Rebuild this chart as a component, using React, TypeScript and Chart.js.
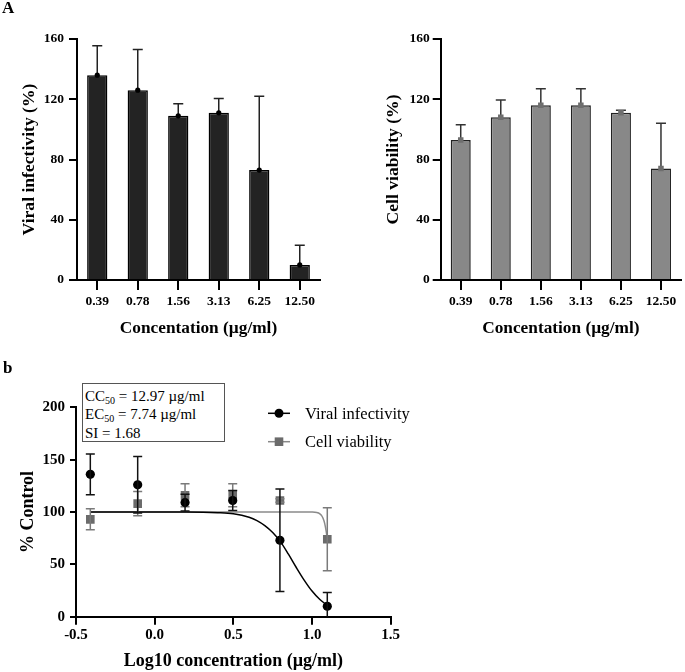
import React, { useEffect, useRef } from 'react';
import { Chart, registerables } from 'chart.js';
Chart.register(...registerables);

// ---------- data ----------
const concLabels = ['0.39', '0.78', '1.56', '3.13', '6.25', '12.50'];
const logConc = [-0.409, -0.108, 0.193, 0.496, 0.796, 1.097];
const viralMean = [136, 126, 109, 111, 73, 10];
const viralSD = [19.5, 27, 8, 9.5, 49, 13];
const cellMean = [93, 108, 116, 116, 111, 74];
const cellSD = [10, 11.5, 11, 11, 1.7, 30];
const barYTicks = [0, 40, 80, 120, 160];
const doseYTicks = [0, 50, 100, 150, 200];
const doseXTicks = [-0.5, 0, 0.5, 1.0, 1.5];
// fitted curves
const viralFitX = [-0.41, 0.2, 0.4, 0.5, 0.6, 0.65, 0.7, 0.75, 0.8, 0.85, 0.9, 0.95, 1.0, 1.05, 1.097];
const viralFitY = [100, 99.9, 99.3, 98.3, 95, 91.8, 87, 80.4, 71.5, 59.7, 47, 35, 24.5, 16.4, 10.8];
const cellFitX = [-0.41, 0.5, 0.9, 1.0, 1.03, 1.05, 1.06, 1.07, 1.08, 1.09, 1.097];
const cellFitY = [100, 100, 100, 99.9, 99.5, 98.3, 96.8, 94, 89.4, 81.5, 74];

const SERIF = '"Liberation Serif", "Times New Roman", serif';

// ---------- plugins ----------
const errorBarPlugin = {
  id: 'errorBars',
  afterDatasetDraw(chart: any, args: any) {
    const ds: any = chart.data.datasets[args.index];
    if (!ds.errors) return;
    const ys = chart.scales.y;
    const area = chart.chartArea;
    const ctx = chart.ctx;
    ctx.save();
    ctx.strokeStyle = ds.errorColor || '#000';
    ctx.lineWidth = ds.errorWidth || 1.5;
    args.meta.data.forEach((el: any, i: number) => {
      const d = ds.data[i];
      const v = typeof d === 'number' ? d : d.y;
      const e = ds.errors[i];
      const px = el.x;
      const yTop = ys.getPixelForValue(v + e);
      const lowVal = ds.errorBoth ? v - e : v;
      const yBot = Math.min(ys.getPixelForValue(lowVal), area.bottom);
      const cw = (ds.capWidth || 10) / 2;
      ctx.beginPath();
      ctx.moveTo(px, yTop);
      ctx.lineTo(px, yBot);
      ctx.moveTo(px - cw, yTop);
      ctx.lineTo(px + cw, yTop);
      if (ds.errorBoth && lowVal >= 0) {
        ctx.moveTo(px - cw, yBot);
        ctx.lineTo(px + cw, yBot);
      }
      ctx.stroke();
    });
    ctx.restore();
  },
};

const doseLegendPlugin = {
  id: 'doseLegend',
  afterDraw(chart: any) {
    const ctx = chart.ctx;
    const a = chart.chartArea;
    const items = chart.data.datasets.filter((d: any) => d.legendMarker);
    items.forEach((ds: any, k: number) => {
      const y = a.top + 6 + k * 28.4;
      const x0 = a.right - 122.7;
      ctx.save();
      ctx.strokeStyle = ds.legendLine;
      ctx.lineWidth = 1.5;
      ctx.beginPath();
      ctx.moveTo(x0, y);
      ctx.lineTo(x0 + 22, y);
      ctx.stroke();
      ctx.fillStyle = ds.backgroundColor;
      if (ds.legendMarker === 'circle') {
        ctx.beginPath();
        ctx.arc(x0 + 11, y, 4.5, 0, Math.PI * 2);
        ctx.fill();
      } else {
        ctx.fillRect(x0 + 11 - 4.3, y - 4.3, 8.6, 8.6);
      }
      ctx.fillStyle = '#000';
      ctx.font = `16.5px ${SERIF}`;
      ctx.textAlign = 'left';
      ctx.textBaseline = 'middle';
      ctx.fillText(ds.label, x0 + 37, y + 1);
      ctx.restore();
    });
  },
};

// ---------- config builders ----------
function barConfig(opts: {
  labels: string[]; mean: number[]; sd: number[]; fill: string; border: string;
  markerColor: string; markerStyle: string; markerRadius: number; errColor: string;
  yTitle: string; yWidth: number; yTitlePad: number; padRight: number; tickPad: number;
}): any {
  return {
    data: {
      labels: opts.labels,
      datasets: [
        {
          type: 'bar',
          label: opts.yTitle,
          data: opts.mean,
          backgroundColor: opts.fill,
          borderColor: opts.border,
          borderWidth: 1.5,
          barPercentage: 0.5,
          categoryPercentage: 1,
          order: 2,
          errors: opts.sd,
          errorColor: opts.errColor,
          errorWidth: 1.5,
          capWidth: 10,
          errorBoth: false,
        },
        {
          type: 'line',
          label: 'mean',
          data: opts.mean,
          showLine: false,
          pointStyle: opts.markerStyle,
          pointRadius: opts.markerRadius,
          pointBackgroundColor: opts.markerColor,
          pointBorderColor: opts.markerColor,
          pointBorderWidth: 0,
          order: 1,
        },
      ],
    },
    options: {
      responsive: false,
      animation: false,
      events: [],
      layout: { padding: { left: 0, top: 39, right: opts.padRight, bottom: 0 } },
      plugins: { legend: { display: false }, tooltip: { enabled: false } },
      scales: {
        x: {
          type: 'category',
          offset: true,
          grid: { offset: false, drawOnChartArea: false, drawTicks: true, tickLength: 10, color: '#000', lineWidth: 2 },
          border: { display: true, color: '#000', width: 2 },
          ticks: { color: '#000', font: { family: SERIF, size: 13.5, weight: 'bold' }, padding: 3, maxRotation: 0 },
          title: {
            display: true,
            text: 'Concentation (µg/ml)',
            color: '#000',
            font: { family: SERIF, size: 17.3, weight: 'bold' },
            padding: { top: 0, bottom: 5.6 },
          },
          afterFit: (s: any) => { s.height = 65; },
        },
        y: {
          min: 0,
          max: 160,
          afterBuildTicks: (s: any) => { s.ticks = barYTicks.map((v) => ({ value: v })); },
          grid: { drawOnChartArea: false, drawTicks: true, tickLength: 8, color: '#000', lineWidth: 2 },
          border: { display: true, color: '#000', width: 2 },
          ticks: { color: '#000', font: { family: SERIF, size: 13.5, weight: 'bold' }, padding: opts.tickPad },
          title: {
            display: true,
            text: opts.yTitle,
            color: '#000',
            font: { family: SERIF, size: 17.6, weight: 'bold' },
            padding: { top: opts.yTitlePad, bottom: 0 },
          },
          afterFit: (s: any) => { s.width = opts.yWidth; },
        },
      },
    },
    plugins: [errorBarPlugin],
  };
}

function doseConfig(): any {
  const pts = (ys: number[]) => logConc.map((x, i) => ({ x, y: ys[i] }));
  const curve = (xs: number[], ys: number[]) => xs.map((x, i) => ({ x, y: ys[i] }));
  return {
    type: 'scatter',
    data: {
      datasets: [
        {
          label: 'Viral infectivity',
          data: pts(viralMean),
          pointStyle: 'circle',
          pointRadius: 4.6,
          backgroundColor: '#000',
          borderColor: '#000',
          pointBorderWidth: 0,
          order: 1,
          errors: viralSD,
          errorColor: '#111',
          errorWidth: 1.5,
          capWidth: 9,
          errorBoth: true,
          legendMarker: 'circle',
          legendLine: '#000',
        },
        {
          label: 'Cell viability',
          data: pts(cellMean),
          pointStyle: 'rect',
          pointRadius: 6.1,
          backgroundColor: '#6b6b6b',
          borderColor: '#6b6b6b',
          pointBorderWidth: 0,
          order: 2,
          errors: cellSD,
          errorColor: '#7a7a7a',
          errorWidth: 1.5,
          capWidth: 9,
          errorBoth: true,
          legendMarker: 'rect',
          legendLine: '#888',
        },
        {
          label: 'viral fit',
          type: 'line',
          data: curve(viralFitX, viralFitY),
          showLine: true,
          borderColor: '#000',
          borderWidth: 1.5,
          pointRadius: 0,
          cubicInterpolationMode: 'monotone',
          fill: false,
          order: 3,
        },
        {
          label: 'cell fit',
          type: 'line',
          data: curve(cellFitX, cellFitY),
          showLine: true,
          borderColor: '#8a8a8a',
          borderWidth: 1.5,
          pointRadius: 0,
          cubicInterpolationMode: 'monotone',
          fill: false,
          order: 4,
        },
      ],
    },
    options: {
      responsive: false,
      animation: false,
      events: [],
      layout: { padding: { left: 0, top: 67.3, right: 294.3, bottom: 0 } },
      plugins: { legend: { display: false }, tooltip: { enabled: false } },
      scales: {
        x: {
          type: 'linear',
          min: -0.5,
          max: 1.5,
          afterBuildTicks: (s: any) => { s.ticks = doseXTicks.map((v) => ({ value: v })); },
          grid: { drawOnChartArea: false, drawTicks: true, tickLength: 8, color: '#000', lineWidth: 2 },
          border: { display: true, color: '#000', width: 2 },
          ticks: {
            color: '#000',
            font: { family: SERIF, size: 15, weight: 'bold' },
            padding: 1,
            maxRotation: 0,
            callback: (v: any) => Number(v).toFixed(1),
          },
          title: {
            display: true,
            text: 'Log10 concentration (µg/ml)',
            color: '#000',
            font: { family: SERIF, size: 18, weight: 'bold' },
            padding: { top: 0, bottom: 0 },
          },
          afterFit: (s: any) => { s.height = 55.3; },
        },
        y: {
          min: 0,
          max: 200,
          afterBuildTicks: (s: any) => { s.ticks = doseYTicks.map((v) => ({ value: v })); },
          grid: { drawOnChartArea: false, drawTicks: true, tickLength: 6, color: '#000', lineWidth: 2 },
          border: { display: true, color: '#000', width: 2 },
          ticks: { color: '#000', font: { family: SERIF, size: 15, weight: 'bold' }, padding: 5 },
          title: {
            display: true,
            text: '% Control',
            color: '#000',
            font: { family: SERIF, size: 18, weight: 'bold' },
            padding: { top: 17.2, bottom: 0 },
          },
          afterFit: (s: any) => { s.width = 76; },
        },
      },
    },
    plugins: [errorBarPlugin, doseLegendPlugin],
  };
}

export default function App() {
  const refA = useRef<HTMLCanvasElement>(null);
  const refB = useRef<HTMLCanvasElement>(null);
  const refC = useRef<HTMLCanvasElement>(null);

  useEffect(() => {
    const charts = [
      new Chart(refA.current as HTMLCanvasElement, barConfig({
        labels: concLabels, mean: viralMean, sd: viralSD, fill: '#232323', border: '#000',
        markerColor: '#000', markerStyle: 'circle', markerRadius: 2.6, errColor: '#222',
        yTitle: 'Viral infectivity (%)', yWidth: 77, yTitlePad: 18.4, padRight: 20, tickPad: 5,
      })),
      new Chart(refB.current as HTMLCanvasElement, barConfig({
        labels: concLabels, mean: cellMean, sd: cellSD, fill: '#888888', border: '#222',
        markerColor: '#6e6e6e', markerStyle: 'rect', markerRadius: 3.9, errColor: '#333',
        yTitle: 'Cell viability (%)', yWidth: 100.7, yTitlePad: 42.4, padRight: 1, tickPad: 3,
      })),
      new Chart(refC.current as HTMLCanvasElement, doseConfig()),
    ];
    return () => charts.forEach((c) => c.destroy());
  }, []);

  const abs = (l: number, t: number, w: number, h: number): React.CSSProperties => ({
    position: 'absolute', left: l, top: t, width: w, height: h,
  });

  return (
    <div style={{ position: 'absolute', left: 0, top: 0, width: 685, height: 672, background: '#fff', fontFamily: SERIF, overflow: 'hidden' }}>
      <div style={abs(0, 0, 340, 345)}>
        <canvas ref={refA} width={340} height={345} style={{ display: 'block', width: 340, height: 345 }} />
      </div>
      <div style={abs(340, 0, 345, 345)}>
        <canvas ref={refB} width={345} height={345} style={{ display: 'block', width: 345, height: 345 }} />
      </div>
      <div style={abs(0, 340, 685, 332)}>
        <canvas ref={refC} width={685} height={332} style={{ display: 'block', width: 685, height: 332 }} />
      </div>
      <div style={{ position: 'absolute', left: 2, top: -1, fontSize: 17, lineHeight: '17px', fontWeight: 'bold' }}>A</div>
      <div style={{ position: 'absolute', left: 3, top: 359, fontSize: 17, lineHeight: '17px', fontWeight: 'bold' }}>b</div>
      <div
        style={{
          position: 'absolute', left: 82, top: 383, width: 143, height: 59, boxSizing: 'border-box',
          border: '1px solid #555', padding: '3px 0 0 2px', fontSize: 15, lineHeight: '18.3px', color: '#000', background: '#fff',
        }}
      >
        <div>CC<sub style={{ fontSize: 10, verticalAlign: '-3px', lineHeight: 0 }}>50</sub> = 12.97 µg/ml</div>
        <div>EC<sub style={{ fontSize: 10, verticalAlign: '-3px', lineHeight: 0 }}>50</sub> = 7.74 µg/ml</div>
        <div>SI = 1.68</div>
      </div>
    </div>
  );
}
